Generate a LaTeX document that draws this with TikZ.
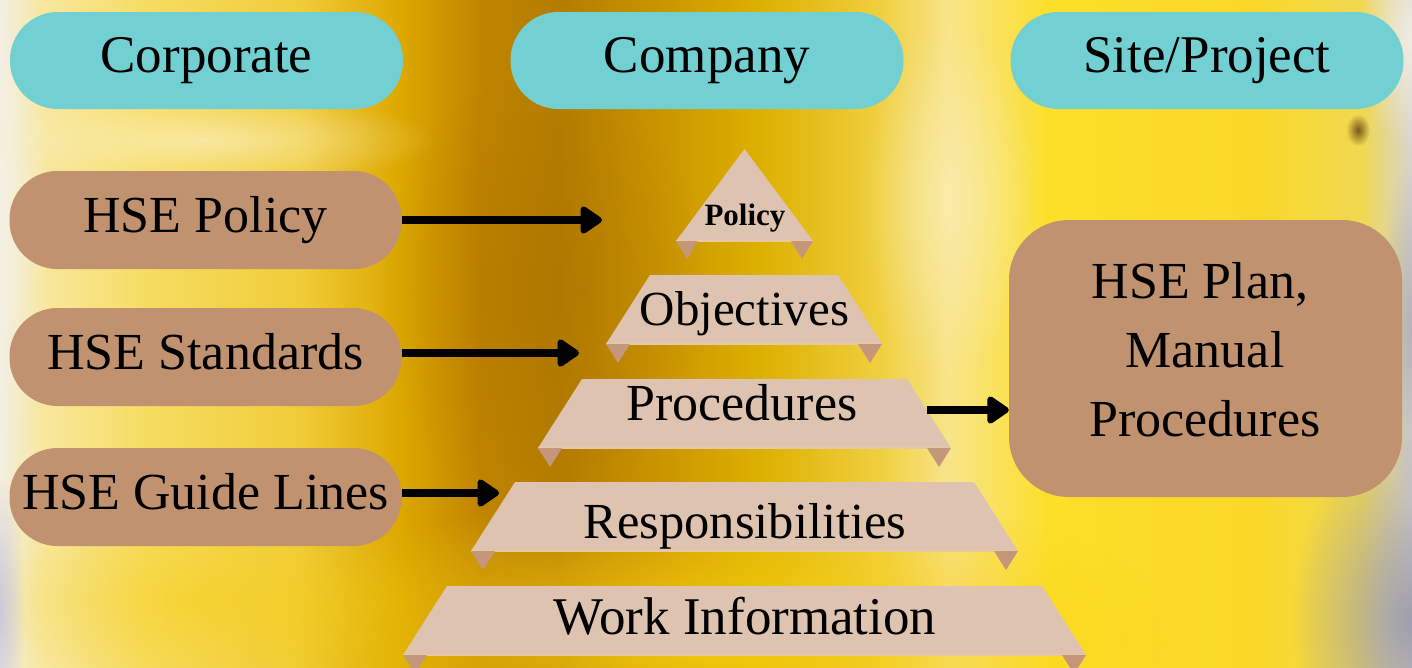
\documentclass[tikz,border=0pt]{standalone}
\usepackage{fontspec}
\setmainfont{Liberation Serif}
\usetikzlibrary{arrows.meta,fadings}
\definecolor{pillcyan}{HTML}{72D0D2}
\definecolor{boxbrown}{HTML}{C0926F}
\definecolor{trapfill}{HTML}{DDC3B0}
\definecolor{flapfill}{HTML}{C4977A}
\definecolor{trapedge}{HTML}{E8C8A0}
\definecolor{darkgold}{HTML}{A87000}
\definecolor{paleyel}{HTML}{FAF0C0}
\definecolor{whitish}{HTML}{F6F2E8}
\definecolor{brightyel}{HTML}{F6CE10}
\definecolor{greyblue}{HTML}{9C9CAC}
\definecolor{lavender}{HTML}{C8C4D8}
\definecolor{darkspot}{HTML}{5A3A10}
\definecolor{bga}{HTML}{F2EEE0}
\definecolor{bgb}{HTML}{F8E8A0}
\definecolor{bgc}{HTML}{F6DC60}
\definecolor{bgd}{HTML}{F0CC38}
\definecolor{bge}{HTML}{DCA800}
\definecolor{bgf}{HTML}{C08400}
\definecolor{bgg}{HTML}{B47C00}
\definecolor{bgh}{HTML}{C89200}
\definecolor{bgi}{HTML}{DDB000}
\definecolor{bgj}{HTML}{F0D040}
\definecolor{bgk}{HTML}{F8E48A}
\definecolor{bgl}{HTML}{FCDF28}
\definecolor{bgm}{HTML}{FAD828}
\definecolor{bgn}{HTML}{F0D850}
\definecolor{bgo}{HTML}{D8D4D0}
\pgfdeclarehorizontalshading{bgshade}{100bp}{
 color(0bp)=(bga);
 color(25bp)=(bga);
 color(26.4bp)=(bgb);
 color(30.3bp)=(bgc);
 color(35.6bp)=(bgd);
 color(39.2bp)=(bge);
 color(42bp)=(bgf);
 color(44.8bp)=(bgg);
 color(48bp)=(bgh);
 color(51.9bp)=(bgi);
 color(56.2bp)=(bgj);
 color(58.6bp)=(bgk);
 color(62.2bp)=(bgl);
 color(69.3bp)=(bgm);
 color(73.2bp)=(bgn);
 color(75bp)=(bgo);
 color(100bp)=(bgo)}
\tikzfading[name=fuzzy, inner color=transparent!0, outer color=transparent!100]
\newcommand\trapz[4]{%
  \fill[trapfill] (#1,#4) -- (#1+44,#3) -- (#2-44,#3) -- (#2,#4) -- cycle;
  \draw[trapedge, line width=1.5pt] (#1,#4) -- (#2,#4);
  \fill[flapfill] (#1,#4) -- (#1+24,#4) -- (#1+12,#4+19) -- cycle;
  \fill[flapfill] (#2,#4) -- (#2-24,#4) -- (#2-12,#4+19) -- cycle;}
\tikzset{
  fs/.style={font=\fontsize{#1}{#1}\selectfont},
  boxtext/.style={text=black, inner sep=0pt, text height=24pt, text depth=0pt},
  pill/.style={boxtext, fs=53, fill=pillcyan, rounded corners=48pt, minimum width=393pt, minimum height=97pt},
  brownbox/.style={boxtext, fs=52, fill=boxbrown, rounded corners=48pt, minimum width=392pt, minimum height=98pt},
  layer/.style={text=black, inner sep=0pt, anchor=base},
  arr/.style={line width=8pt, -{Triangle[round, length=24pt, width=31pt]}},
}
\begin{document}
\begin{tikzpicture}[x=1pt,y=-1pt]
\useasboundingbox (0,0) rectangle (1412,667);
% background
\fill[shading=bgshade] (0,0) rectangle (1412,667);
\fill[whitish, opacity=0.6, path fading=fuzzy] (0,200) ellipse [x radius=50, y radius=320];
\fill[paleyel, opacity=0.7, path fading=fuzzy] (200,140) ellipse [x radius=240, y radius=45];
\fill[darkgold, opacity=0.4, path fading=fuzzy] (540,290) ellipse [x radius=170, y radius=210];
\fill[paleyel, opacity=0.6, path fading=fuzzy] (950,200) ellipse [x radius=90, y radius=180];
\fill[brightyel, opacity=0.9, path fading=fuzzy] (720,640) ellipse [x radius=480, y radius=150];
\fill[brightyel, opacity=0.5, path fading=fuzzy] (200,600) ellipse [x radius=220, y radius=90];
\fill[lavender, opacity=0.9, path fading=fuzzy] (0,610) ellipse [x radius=25, y radius=130];
\fill[greyblue, opacity=0.95, path fading=fuzzy] (1412,620) ellipse [x radius=120, y radius=190];
\fill[greyblue, opacity=0.6, path fading=fuzzy] (1412,330) ellipse [x radius=35, y radius=170];
\fill[whitish, opacity=0.8, path fading=fuzzy] (1412,40) ellipse [x radius=55, y radius=110];
\fill[darkspot, opacity=0.8, path fading=fuzzy] (1358,130) ellipse [x radius=12, y radius=16];
% header pills
\node[pill] (corp) at (206.5,60.5) {Corporate};
\node[pill] (comp) at (707,60.5) {Company};
\node[pill] (site) at (1207,60.5) {Site/Project};
% left boxes
\node[brownbox] (pol) at (205.5,220) {HSE Policy};
\node[brownbox] (std) at (205.5,357) {HSE Standards};
\node[brownbox] (gl) at (205.5,497) {HSE Guide Lines};
% right box
\node[fill=boxbrown, rounded corners=60pt, minimum width=393pt, minimum height=277pt, inner sep=0pt] (plan) at (1205.5,358.5) {};
\node[layer, fs=52] (plan1) at (1200,298) {HSE Plan,};
\node[layer, fs=52] (plan2) at (1205,367) {Manual};
\node[layer, fs=52] (plan3) at (1205,436) {Procedures};
% pyramid
\fill[trapfill] (676,241) -- (744.5,149) -- (813,241) -- cycle;
\draw[trapedge, line width=1.5pt] (676,241) -- (813,241);
\fill[flapfill] (676,241) -- (698,241) -- (687,259) -- cycle;
\fill[flapfill] (813,241) -- (791,241) -- (802,259) -- cycle;
\node[layer, font=\fontsize{31}{31}\selectfont\bfseries] (tpol) at (745,225) {Policy};
\trapz{606}{882}{275}{344}
\node[layer, fs=49] (tobj) at (744.5,325) {Objectives};
\trapz{538}{951}{379}{448}
\node[layer, fs=52] (tproc) at (742,420) {Procedures};
\trapz{471}{1018}{482}{551}
\node[layer, fs=50.5] (tresp) at (745,538) {Responsibilities};
\trapz{403}{1086}{586}{655}
\node[layer, fs=53] (twork) at (745,634) {Work Information};
% arrow ends
\coordinate (e1) at (602,220);
\coordinate (e2) at (579,353);
\coordinate (e3) at (499,493);
\coordinate (s4) at (927,410);
\draw[arr] (pol.east |- e1) -- (e1);
\draw[arr] (std.east |- e2) -- (e2);
\draw[arr] (gl.east |- e3) -- (e3);
\draw[arr] (s4) -- (plan.west |- s4);
\end{tikzpicture}
\end{document}
